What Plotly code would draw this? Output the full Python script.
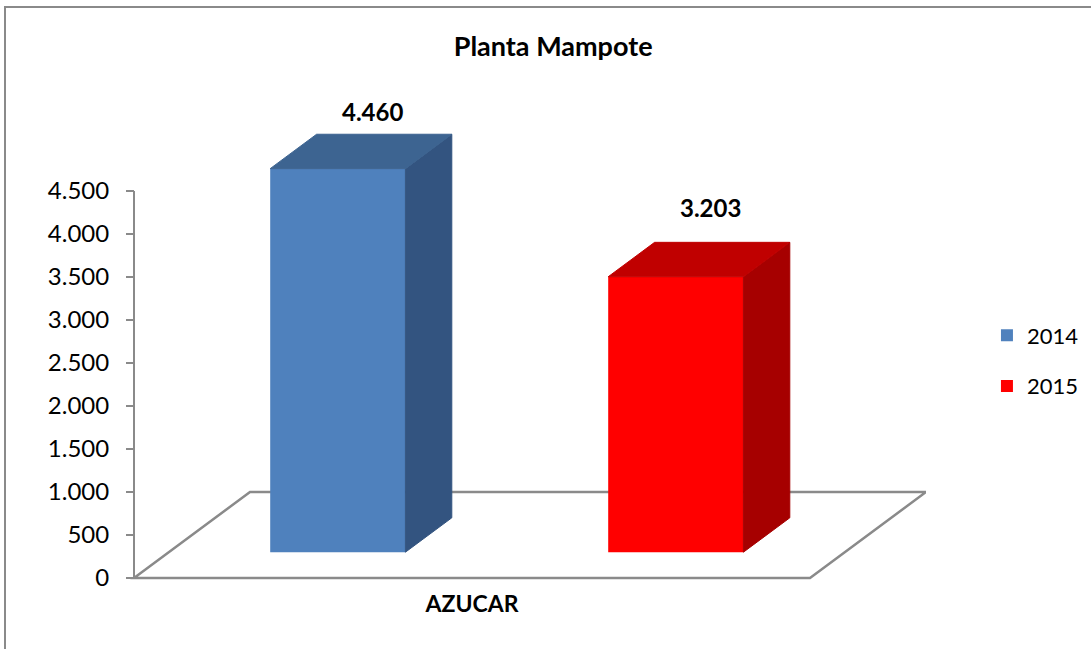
import plotly.graph_objects as go

# data
categories = ["AZUCAR"]
series = ["2014", "2015"]
values = [4460, 3203]
y_ticks = [0, 500, 1000, 1500, 2000, 2500, 3000, 3500, 4000, 4500]

# colours per series: front, top, side
front_colors = ["#4F81BD", "#FF0000"]
top_colors = ["#3D6491", "#C00000"]
side_colors = ["#335480", "#A60000"]

# pseudo-3D geometry (x in px-ish units, y in value units)
slot = 676.0            # width of the category slot on the floor front
floor_dx, floor_dy = 116.0, 1000.0   # depth offset of the floor
f0, f1 = 0.3, 0.7       # depth fraction of bar front / back
bar_w = 0.2 * slot
bar_pos = [0.25, 0.75]  # bar centres as fraction of slot
label_shift = [6, 18]
font = "Lato"
grey = "#8a8a8a"

fig = go.Figure()

# floor, drawn below the traces so the bars hide its back edge
floor = [(0, 0), (slot, 0), (slot + floor_dx, floor_dy), (floor_dx, floor_dy)]
floor_path = "M " + " L ".join(f"{x},{y}" for x, y in floor) + " Z"

# y axis line
fig.add_trace(go.Scatter(x=[0, 0], y=[0, y_ticks[-1]], mode="lines",
                         line=dict(color=grey, width=2), showlegend=False, hoverinfo="skip"))

ox, oy = f0 * floor_dx, f0 * floor_dy          # bar front offset
ddx, ddy = (f1 - f0) * floor_dx, (f1 - f0) * floor_dy  # bar depth
annotations = []
for i, (name, v) in enumerate(zip(series, values)):
    c = ox + bar_pos[i] * slot
    xl, xr = c - bar_w / 2, c + bar_w / 2
    top = oy + v
    fig.add_trace(go.Bar(x=[c], y=[v], base=[oy], width=[bar_w], name=name, legendgroup=name,
                         marker=dict(color=front_colors[i], line=dict(width=0))))
    # side face
    fig.add_trace(go.Scatter(x=[xr, xr + ddx, xr + ddx, xr, xr],
                             y=[oy, oy + ddy, top + ddy, top, oy],
                             mode="lines", fill="toself", fillcolor=side_colors[i],
                             line=dict(width=1, color=side_colors[i]),
                             showlegend=False, hoverinfo="skip"))
    # top face
    fig.add_trace(go.Scatter(x=[xl, xr, xr + ddx, xl + ddx, xl],
                             y=[top, top, top + ddy, top + ddy, top],
                             mode="lines", fill="toself", fillcolor=top_colors[i],
                             line=dict(width=1, color=top_colors[i]),
                             showlegend=False, hoverinfo="skip"))
    annotations.append(dict(x=c + 0.75 * ddx, y=top + ddy, xref="x", yref="y",
                            text=f"{v:,}".replace(",", "."), showarrow=False,
                            yanchor="bottom", yshift=label_shift[i],
                            font=dict(family=font, size=24, color="black", weight="bold")))

fig.update_layout(
    width=1091, height=649,
    margin=dict(l=124, r=165, t=100, b=61, autoexpand=False),
    paper_bgcolor="white", plot_bgcolor="white",
    separators=",.",
    barmode="overlay",
    title=dict(text="<b>Planta Mampote</b>", x=0.507, xref="container", xanchor="center",
               y=1 - 47 / 649, yref="container", yanchor="middle",
               font=dict(family=font, size=27, color="black")),
    xaxis=dict(range=[-10, 792], showgrid=False, zeroline=False, showline=False,
               tickvals=[slot / 2], ticktext=[f"<b>{c}</b>" for c in categories],
               ticks="", ticklabelstandoff=0,
               tickfont=dict(family=font, size=23, color="black")),
    yaxis=dict(range=[-116.3, 5558.1], showgrid=False, zeroline=False, showline=False,
               anchor="free", position=10 / 802,
               tickvals=y_ticks, tickformat=",d", ticks="outside", ticklen=8,
               tickwidth=2, tickcolor=grey, ticklabelstandoff=12,
               tickfont=dict(family=font, size=24, color="black")),
    legend=dict(x=1.076, xanchor="left", y=(588 - 361) / 488, yanchor="middle",
                font=dict(family=font, size=22, color="black"),
                traceorder="grouped", tracegroupgap=19, itemwidth=30),
    annotations=annotations,
    shapes=[
        dict(type="path", xref="x", yref="y", path=floor_path,
             line=dict(color=grey, width=2.5), layer="below"),
        dict(type="rect", xref="paper", yref="paper",
             x0=(5 - 124) / 802, x1=(1100 - 124) / 802,
             y0=(588 - 660) / 488, y1=(588 - 7) / 488,
             line=dict(color=grey, width=2), fillcolor="rgba(0,0,0,0)", layer="below"),
    ],
)

fig.write_html("out.html", config={"displayModeBar": False},
               post_script="document.body.style.margin='0';")
